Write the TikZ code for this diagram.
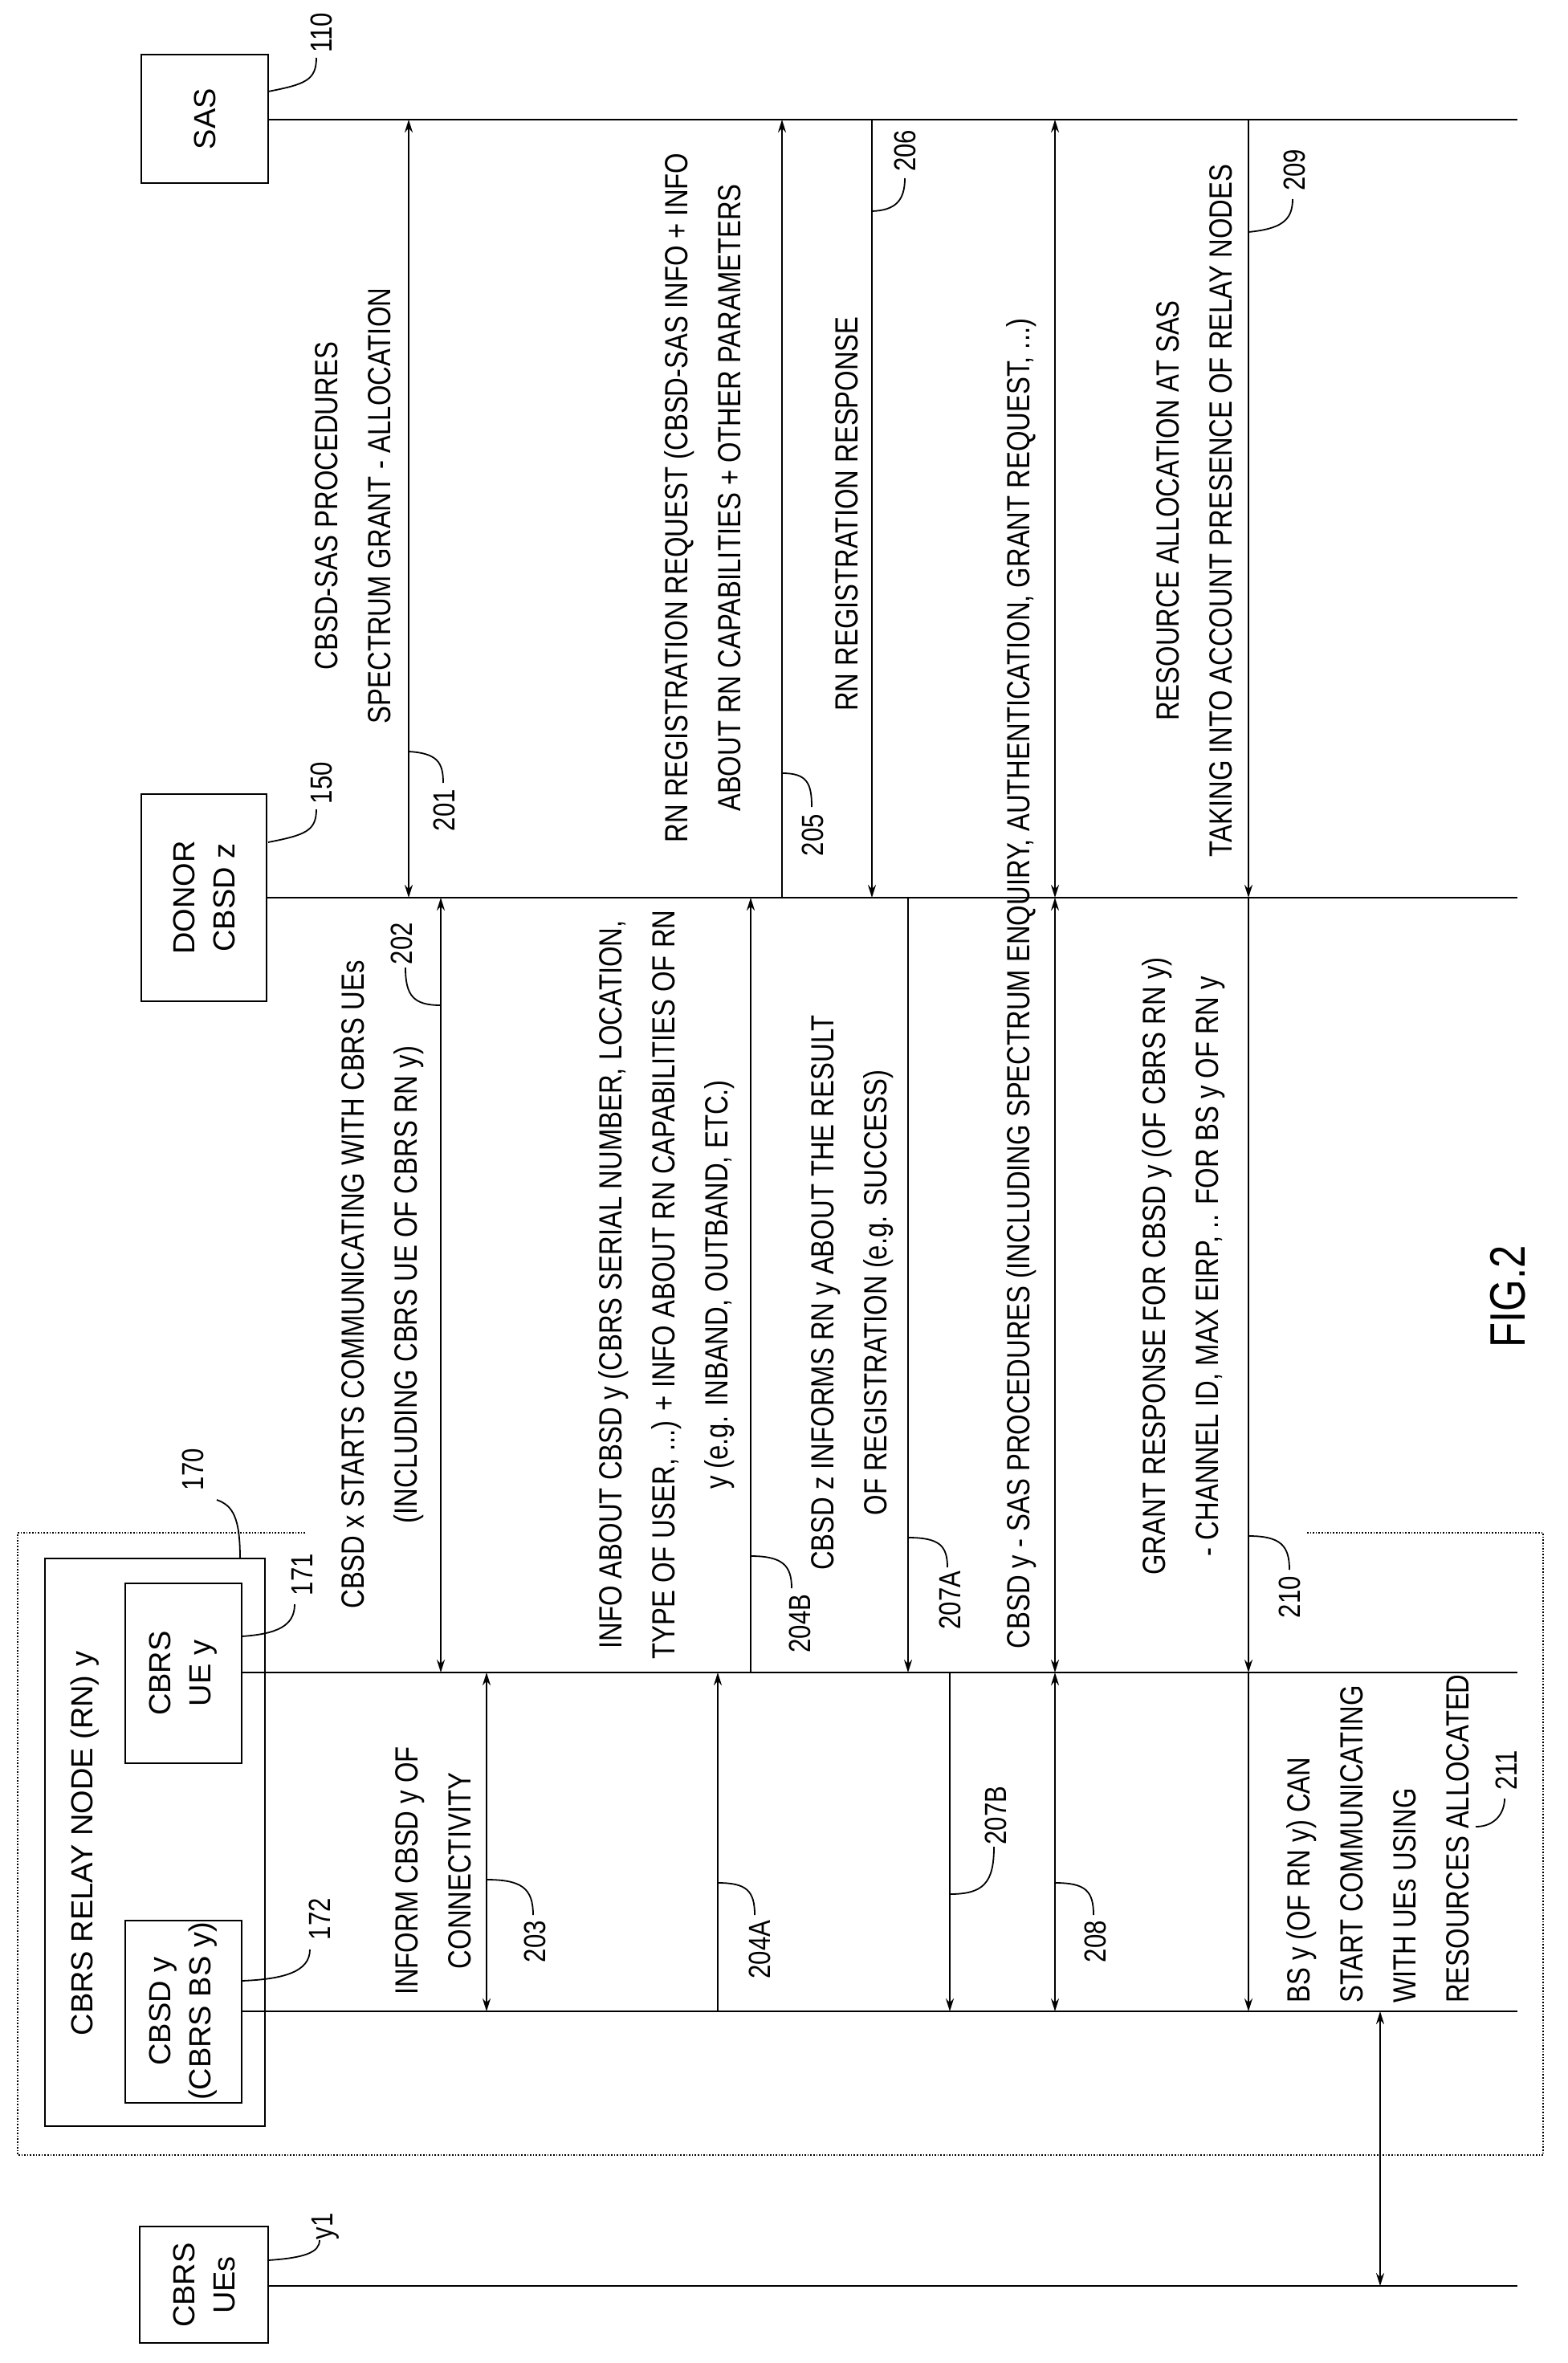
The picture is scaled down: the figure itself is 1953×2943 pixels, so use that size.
\documentclass[tikz,border=0pt]{standalone}
\usepackage{fontspec}
\setmainfont{Liberation Sans}[FakeStretch=0.82]
\newfontfamily\wide{Liberation Sans}
\usetikzlibrary{arrows.meta}
\begin{document}
\begin{tikzpicture}[x=1pt,y=-1pt,
  life/.style={line width=2.6pt},
  box/.style={draw,line width=2.6pt,inner sep=0},
  boxtext/.style={rotate=90,align=center,font=\wide\fontsize{38}{50}\selectfont,inner sep=0},
  msg/.style={rotate=90,align=center,font=\fontsize{40}{66}\selectfont,inner sep=0},
  num/.style={rotate=90,font=\fontsize{38}{44}\selectfont,inner sep=0},
  lead/.style={line width=1.8pt},
  tip/.style={-{Stealth[length=16pt,width=10pt]}},
  tips/.style={{Stealth[length=16pt,width=10pt]}-{Stealth[length=16pt,width=10pt]}},
  arr/.style={line width=2.2pt}]
\useasboundingbox (0,0) rectangle (1953,2943);
% boxes
\draw[box] (176,68) rectangle (334,228);
\node[boxtext] (sas) at (255,148) {SAS};
\draw[box] (176,989) rectangle (332,1247);
\node[boxtext] (donor) at (254,1118) {DONOR\\CBSD z};
\draw[line width=1.6pt,dotted] (380,1909) -- (22,1909) -- (22,2684) -- (1922,2684) -- (1922,1909) -- (1628,1909);
\draw[box] (56,1941) rectangle (330,2648);
\node[boxtext] (rn) at (106,2296) {CBRS RELAY NODE (RN) y};
\draw[box] (156,1972) rectangle (301,2196);
\node[boxtext] (uey) at (228,2084) {CBRS\\UE y};
\draw[box] (156,2392) rectangle (301,2619);
\node[boxtext] (bsy) at (228,2505) {CBSD y\\(CBRS BS y)};
\draw[box] (174,2773) rectangle (334,2918);
\node[boxtext] (ues) at (254,2846) {CBRS\\UEs};
% lifelines
\coordinate (Ls) at (1890,149); \draw[life] (334,149) -- (Ls);
\coordinate (Ld) at (1890,1118); \draw[life] (332,1118) -- (Ld);
\coordinate (Lu) at (1890,2083); \draw[life] (301,2083) -- (Lu);
\coordinate (Lb) at (1890,2505); \draw[life] (301,2505) -- (Lb);
\coordinate (Le) at (1890,2847); \draw[life] (334,2847) -- (Le);
% messages
\newcommand\ya{149}\newcommand\yd{1118}\newcommand\yu{2083}\newcommand\yb{2505}\newcommand\ye{2847}
\draw[arr,tips] (509,\ya) -- (509,\yd);
\draw[arr,tips] (549,\yd) -- (549,\yu);
\draw[arr,tips] (606,\yu) -- (606,\yb);
\draw[arr,tip] (894,\yb) -- (894,\yu);
\draw[arr,tip] (935,\yu) -- (935,\yd);
\draw[arr,tip] (974,\yd) -- (974,\ya);
\draw[arr,tip] (1086,\ya) -- (1086,\yd);
\draw[arr,tip] (1131,\yd) -- (1131,\yu);
\draw[arr,tip] (1183,\yu) -- (1183,\yb);
\draw[arr,tips] (1314,\ya) -- (1314,\yd);
\draw[arr,tips] (1314,\yd) -- (1314,\yu);
\draw[arr,tips] (1314,\yu) -- (1314,\yb);
\draw[arr,tip] (1555,\ya) -- (1555,\yd);
\draw[arr,tip] (1555,\yd) -- (1555,\yu);
\draw[arr,tip] (1555,\yu) -- (1555,\yb);
\draw[arr,tips] (1719,\yb) -- (1719,\ye);
% message texts
\node[msg] (t201) at (440,630) {CBSD-SAS PROCEDURES\\SPECTRUM GRANT - ALLOCATION};
\node[msg] (t202) at (477,1600) {CBSD x STARTS COMMUNICATING WITH CBRS UEs\\(INCLUDING CBRS UE OF CBRS RN y)};
\node[msg] (t203) at (540,2330) {INFORM CBSD y OF\\CONNECTIVITY};
\node[msg] (t204) at (830,1600) {INFO ABOUT CBSD y (CBRS SERIAL NUMBER, LOCATION,\\TYPE OF USER, ...) + INFO ABOUT RN CAPABILITIES OF RN\\y (e.g. INBAND, OUTBAND, ETC.)};
\node[msg] (t205) at (875,620) {RN REGISTRATION REQUEST (CBSD-SAS INFO + INFO\\ABOUT RN CAPABILITIES + OTHER PARAMETERS};
\node[msg] (t206) at (1055,640) {RN REGISTRATION RESPONSE};
\node[msg] (t207) at (1062,1610) {CBSD z INFORMS RN y ABOUT THE RESULT\\OF REGISTRATION (e.g. SUCCESS)};
\node[msg] (t208) at (1272,1225) {CBSD y - SAS PROCEDURES (INCLUDING SPECTRUM ENQUIRY, AUTHENTICATION, GRANT REQUEST, ...)};
\node[msg] (t209) at (1488,636) {RESOURCE ALLOCATION AT SAS\\TAKING INTO ACCOUNT PRESENCE OF RELAY NODES};
\node[msg] (t210) at (1474,1577) {GRANT RESPONSE FOR CBSD y (OF CBRS RN y)\\- CHANNEL ID, MAX EIRP, .. FOR BS y OF RN y};
\node[msg,align=left,anchor=west] (t211) at (1716,2495) {BS y (OF RN y) CAN\\START COMMUNICATING\\WITH UEs USING\\RESOURCES ALLOCATED};
\node[rotate=90,font=\fontsize{62}{70}\selectfont] (fig) at (1878,1615) {FIG.2};
% reference numerals
\node[num] (n110) at (400,41) {110};
\draw[lead] (334,114) .. controls (380,105) and (394,100) .. (394,72);
\node[num] (n150) at (400,975) {150};
\draw[lead] (334,1049) .. controls (380,1040) and (394,1035) .. (394,1008);
\node[num] (n201) at (553,1009) {201};
\draw[lead] (509,936) .. controls (545,938) and (552,950) .. (552,975);
\node[num] (n202) at (500,1175) {202};
\draw[lead] (549,1252) .. controls (515,1252) and (505,1240) .. (505,1205);
\node[num] (n205) at (1012,1040) {205};
\draw[lead] (974,963) .. controls (1005,963) and (1011,975) .. (1011,1005);
\node[num] (n206) at (1127,188) {206};
\draw[lead] (1086,263) .. controls (1115,262) and (1127,250) .. (1127,222);
\node[num] (n209) at (1612,212) {209};
\draw[lead] (1555,289) .. controls (1595,285) and (1610,275) .. (1610,248);
\node[num] (n204B) at (996,2022) {204B};
\draw[lead] (935,1938) .. controls (975,1938) and (986,1950) .. (986,1978);
\node[num] (n207A) at (1183,1993) {207A};
\draw[lead] (1131,1915) .. controls (1170,1915) and (1180,1925) .. (1180,1952);
\node[num] (n210) at (1606,1989) {210};
\draw[lead] (1555,1913) .. controls (1595,1913) and (1606,1925) .. (1606,1955);
\node[num] (n170) at (240,1830) {170};
\draw[lead] (299,1941) .. controls (299,1890) and (290,1875) .. (270,1868);
\node[num] (n171) at (376,1961) {171};
\draw[lead] (301,2038) .. controls (345,2035) and (367,2025) .. (367,1998);
\node[num] (n172) at (398,2390) {172};
\draw[lead] (301,2467) .. controls (355,2465) and (386,2455) .. (386,2428);
\node[num] (n203) at (666,2418) {203};
\draw[lead] (606,2341) .. controls (650,2341) and (664,2352) .. (664,2385);
\node[num] (n204A) at (946,2428) {204A};
\draw[lead] (894,2345) .. controls (930,2345) and (940,2355) .. (940,2385);
\node[num] (n207B) at (1240,2261) {207B};
\draw[lead] (1183,2359) .. controls (1225,2359) and (1238,2345) .. (1238,2300);
\node[num] (n208) at (1364,2418) {208};
\draw[lead] (1314,2345) .. controls (1352,2345) and (1362,2355) .. (1362,2385);
\node[num] (n211) at (1876,2205) {211};
\draw[lead] (1874,2240) .. controls (1874,2258) and (1862,2275) .. (1838,2275);
\node[num] (ny1) at (405,2773) {y1};
\draw[lead] (334,2815) .. controls (380,2812) and (398,2805) .. (398,2790);
\end{tikzpicture}
\end{document}
